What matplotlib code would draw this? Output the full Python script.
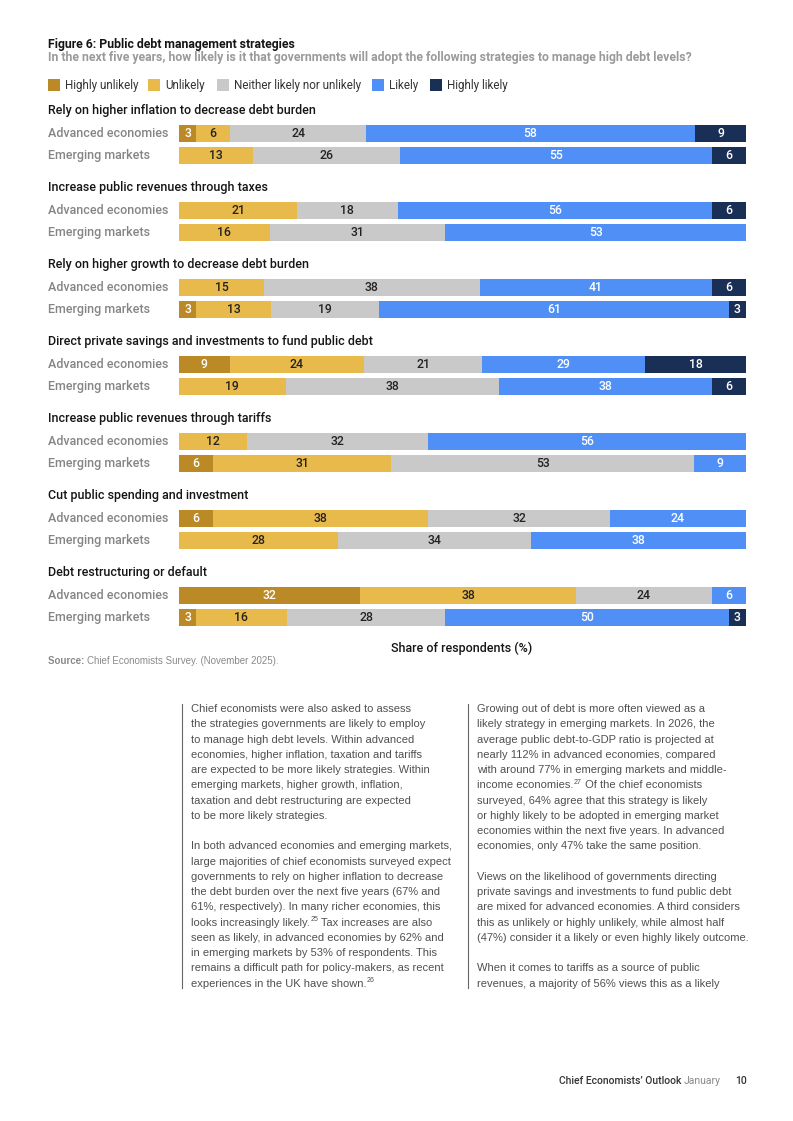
import matplotlib
matplotlib.use("Agg")
import matplotlib.pyplot as plt
from matplotlib.patches import Rectangle
from matplotlib.lines import Line2D
from matplotlib.transforms import blended_transform_factory

plt.rcParams['font.family'] = ['Liberation Sans', 'DejaVu Sans']
CF = ['Roboto', 'Liberation Sans', 'DejaVu Sans']

# ---------------- data ----------------
strategies = [
    "Rely on higher inflation to decrease debt burden",
    "Increase public revenues through taxes",
    "Rely on higher growth to decrease debt burden",
    "Direct private savings and investments to fund public debt",
    "Increase public revenues through tariffs",
    "Cut public spending and investment",
    "Debt restructuring or default",
]
groups = ["Advanced economies", "Emerging markets"]
responses = ["Highly unlikely", "Unlikely", "Neither likely nor unlikely", "Likely", "Highly likely"]

highly_unlikely_ae = [3, 0, 0, 9, 0, 6, 32]
unlikely_ae = [6, 21, 15, 24, 12, 38, 38]
neither_ae = [24, 18, 38, 21, 32, 32, 24]
likely_ae = [58, 56, 41, 29, 56, 24, 6]
highly_likely_ae = [9, 6, 6, 18, 0, 0, 0]

highly_unlikely_em = [0, 0, 3, 0, 6, 0, 3]
unlikely_em = [13, 16, 13, 19, 31, 28, 16]
neither_em = [26, 31, 19, 38, 53, 34, 28]
likely_em = [55, 53, 61, 38, 9, 38, 50]
highly_likely_em = [6, 0, 3, 6, 0, 0, 3]

colors = ["#BB8A26", "#E8B94B", "#C9C9C9", "#5090F6", "#1A2F56"]
label_colors = ["white", "#222222", "#222222", "white", "white"]

left_col = [
    [("Chief economists were also asked to assess", None),
     ("the strategies governments are likely to employ", None),
     ("to manage high debt levels. Within advanced", None),
     ("economies, higher inflation, taxation and tariffs", None),
     ("are expected to be more likely strategies. Within", None),
     ("emerging markets, higher growth, inflation,", None),
     ("taxation and debt restructuring are expected", None),
     ("to be more likely strategies.", None)],
    [("In both advanced economies and emerging markets,", None),
     ("large majorities of chief economists surveyed expect", None),
     ("governments to rely on higher inflation to decrease", None),
     ("the debt burden over the next five years (67% and", None),
     ("61%, respectively). In many richer economies, this", None),
     (["looks increasingly likely.", "25", " Tax increases are also"], "split"),
     ("seen as likely, in advanced economies by 62% and", None),
     ("in emerging markets by 53% of respondents. This", None),
     ("remains a difficult path for policy-makers, as recent", None),
     (["experiences in the UK have shown.", "26", ""], "split")],
]
right_col = [
    [("Growing out of debt is more often viewed as a", None),
     ("likely strategy in emerging markets. In 2026, the", None),
     ("average public debt-to-GDP ratio is projected at", None),
     ("nearly 112% in advanced economies, compared", None),
     ("with around 77% in emerging markets and middle-", None),
     (["income economies.", "27", " Of the chief economists"], "split"),
     ("surveyed, 64% agree that this strategy is likely", None),
     ("or highly likely to be adopted in emerging market", None),
     ("economies within the next five years. In advanced", None),
     ("economies, only 47% take the same position.", None)],
    [("Views on the likelihood of governments directing", None),
     ("private savings and investments to fund public debt", None),
     ("are mixed for advanced economies. A third considers", None),
     ("this as unlikely or highly unlikely, while almost half", None),
     ("(47%) consider it a likely or even highly likely outcome.", None)],
    [("When it comes to tariffs as a source of public", None),
     ("revenues, a majority of 56% views this as a likely", None)],
]

# ---------------- figure ----------------
W, H = 793, 1121
fig = plt.figure(figsize=(W / 100, H / 100), dpi=100)
renderer = fig.canvas.get_renderer()


def fx(px):
    return px / W


def fy(py):
    return 1 - py / H


def text_right(t):
    return t.get_window_extent(renderer=renderer).x1


TOP, BOT = 100, 640
ax = fig.add_axes([fx(179), fy(BOT), (746 - 179) / W, (BOT - TOP) / H])
ax.set_xlim(0, 100)
ax.set_ylim(BOT, TOP)
ax.axis('off')
tr = blended_transform_factory(fig.transFigure, ax.transData)

ae = [highly_unlikely_ae, unlikely_ae, neither_ae, likely_ae, highly_likely_ae]
em = [highly_unlikely_em, unlikely_em, neither_em, likely_em, highly_likely_em]

for i, title in enumerate(strategies):
    ty = 110.5 + 77 * i
    ax.text(fx(48), ty, title, transform=tr, ha='left', va='center', family=CF,
            fontweight='medium', fontsize=9, color='#151515')
    for j, (gname, data) in enumerate(zip(groups, [ae, em])):
        y = 133.5 + 77 * i + 22 * j
        ax.text(fx(48), y, gname, transform=tr, ha='left', va='center', family=CF,
                fontweight='medium', fontsize=9, color='#858585')
        vals = [d[i] for d in data]
        total = sum(vals)
        left = 0
        for k, v in enumerate(vals):
            if v <= 0:
                continue
            w = v / total * 100
            ax.barh(y, w, left=left, height=17, color=colors[k], linewidth=0)
            ax.text(left + w / 2, y, str(v), ha='center', va='center', family=CF,
                    fontweight='medium', fontsize=8.8, color=label_colors[k])
            left += w

# header
fig.text(fx(48), fy(44.5), "Figure 6: Public debt management strategies", family=CF,
         ha='left', va='center', fontsize=8.8, fontweight='bold', color='#151515')
fig.text(fx(48), fy(57), "In the next five years, how likely is it that governments will adopt "
         "the following strategies to manage high debt levels?", family=CF,
         ha='left', va='center', fontsize=8.8, fontweight='bold', color='#9a9a9a')

# legend
leg_x = [48, 148, 217, 372, 430]
for k, name in enumerate(responses):
    fig.add_artist(Rectangle((fx(leg_x[k]), fy(91)), 12 / W, 12 / H,
                             transform=fig.transFigure, color=colors[k], lw=0))
    fig.text(fx(leg_x[k] + 17), fy(85.5), name, ha='left', va='center', family=CF,
             fontsize=8.4, color='#333333')

# axis title and source
fig.text(fx(462), fy(648), "Share of respondents (%)", ha='center', va='center',
         family=CF, fontweight='medium', fontsize=9, color='#151515')
t = fig.text(fx(48), fy(661), "Source: ", ha='left', va='center', fontsize=7,
             color='#8a8a8a', fontweight='bold')
fig.text(fx(text_right(t)), fy(661), "Chief Economists Survey. (November 2025).",
         ha='left', va='center', fontsize=7, color='#8a8a8a')

# body text columns
LS = 15.24
BODY = dict(ha='left', va='baseline', fontsize=8, color='#505050')


def draw_col(paras, x, y0):
    y = y0
    for p in paras:
        for line, kind in p:
            by = fy(y + 3.9)
            if kind == "split":
                pre, sup, post = line
                t1 = fig.text(fx(x), by, pre, **BODY)
                xr = text_right(t1)
                t2 = fig.text(fx(xr + 0.5), fy(y - 0.5), sup, ha='left', va='baseline',
                              fontsize=5, color='#505050')
                xr2 = text_right(t2)
                if post:
                    fig.text(fx(xr2), by, post, **BODY)
            else:
                fig.text(fx(x), by, line, **BODY)
            y += LS
        y += LS


draw_col(left_col, 191, 708.3)
draw_col(right_col, 477, 708.3)
for lx in [182, 468]:
    fig.add_artist(Line2D([fx(lx), fx(lx)], [fy(704), fy(988)],
                          transform=fig.transFigure, color='#666666', lw=0.8))

# footer
f1 = fig.text(fx(559), fy(1081), "Chief Economists’ Outlook ", ha='left', va='center',
              family=CF, fontweight='medium', fontsize=7.5, color='#333333')
fig.text(fx(text_right(f1)), fy(1081), "January", ha='left', va='center', fontsize=7.5,
         family=CF, color='#8a8a8a')
fig.text(fx(735), fy(1081), "10", ha='left', va='center', fontsize=7.5,
         family=CF, fontweight='medium', color='#333333')

fig.savefig("out.png", dpi=100)
